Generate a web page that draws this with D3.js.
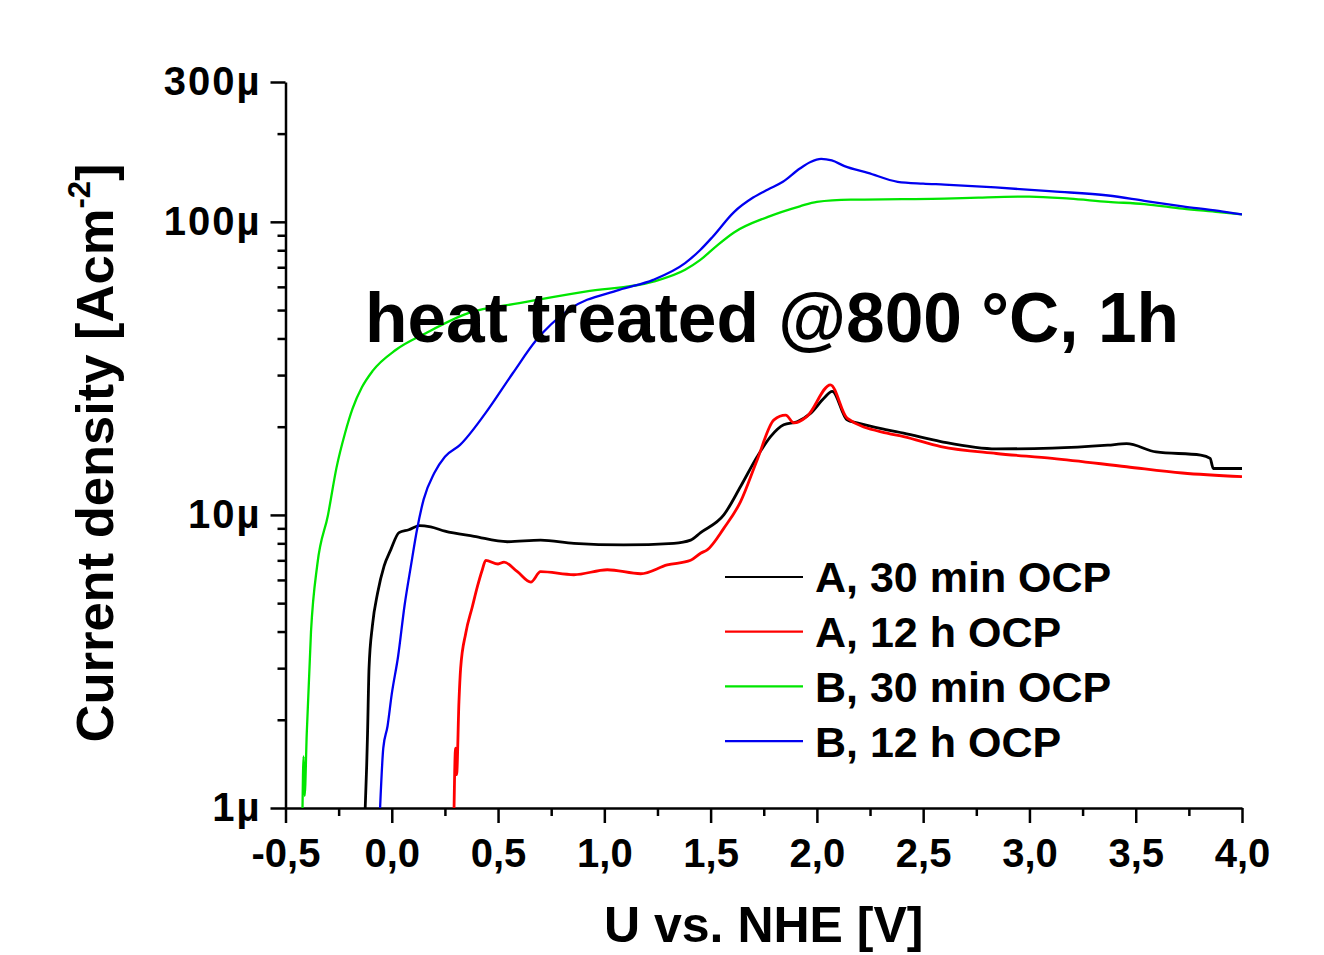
<!DOCTYPE html>
<html>
<head>
<meta charset="utf-8">
<script src="https://cdn.jsdelivr.net/npm/d3@7"></script>
<style>
  body { margin: 0; background: #fff; }
  svg { font-family: "Liberation Sans", Arial, sans-serif; font-weight: bold; }
  .axis path, .axis line { stroke: #000; stroke-width: 2.5; }
  .axis text { font-size: 40px; font-weight: bold; fill: #000; }
</style>
</head>
<body>
<svg width="1324" height="955"></svg>
<script>
// current density in µA/cm², potential in V vs NHE
const seriesNames = ['A, 30 min OCP', 'A, 12 h OCP', 'B, 30 min OCP', 'B, 12 h OCP'];
const seriesColors = ['#000000', '#ff0000', '#00e600', '#0000f0'];

const a30 = [
  [-0.125, 1.0], [-0.118, 1.4], [-0.114, 1.8], [-0.107, 3.0], [-0.091, 4.2], [-0.067, 5.4],
  [-0.036, 6.7], [-0.005, 7.6], [0.034, 8.7], [0.08, 8.9], [0.13, 9.2], [0.183, 9.1],
  [0.25, 8.8], [0.387, 8.45], [0.544, 8.1], [0.70, 8.2], [0.857, 8.0], [1.09, 7.9],
  [1.327, 8.0], [1.406, 8.2], [1.453, 8.7], [1.562, 10.0], [1.641, 12.5], [1.719, 15.8],
  [1.782, 18.5], [1.844, 20.3], [1.907, 20.8], [1.97, 22.2], [2.033, 25.0], [2.072, 26.4],
  [2.142, 21.1], [2.189, 20.6], [2.33, 19.5], [2.408, 19.0], [2.583, 17.8], [2.844, 16.8],
  [3.107, 16.9], [3.369, 17.3], [3.457, 17.5], [3.596, 16.4], [3.806, 16.0], [3.85, 15.6],
  [3.865, 14.4], [4.0, 14.4]
];

const a12 = [
  [0.293, 1.0], [0.30, 1.6], [0.305, 1.3], [0.316, 2.3], [0.324, 3.0], [0.348, 3.95],
  [0.379, 4.86], [0.403, 5.7], [0.426, 6.5], [0.442, 7.0], [0.50, 6.8], [0.528, 6.9],
  [0.591, 6.4], [0.654, 5.9], [0.70, 6.4], [0.857, 6.25], [1.014, 6.5], [1.171, 6.3],
  [1.296, 6.75], [1.406, 7.0], [1.453, 7.4], [1.484, 7.6], [1.562, 9.0], [1.641, 11.1],
  [1.719, 15.4], [1.798, 21.1], [1.853, 21.9], [1.892, 20.6], [1.954, 21.7], [2.064, 27.8],
  [2.142, 21.4], [2.33, 19.0], [2.408, 18.5], [2.583, 17.1], [2.844, 16.2], [3.107, 15.6],
  [3.457, 14.6], [3.719, 13.9], [4.0, 13.5]
];

const b30 = [
  [-0.42, 1.0], [-0.415, 1.5], [-0.41, 1.1], [-0.40, 1.8], [-0.38, 4.0], [-0.35, 6.8],
  [-0.30, 10.0], [-0.26, 14.5], [-0.22, 19.0], [-0.185, 23.0], [-0.14, 27.3], [-0.09, 31.0],
  [0.02, 36.6], [0.16, 41.7], [0.36, 48.8], [0.60, 52.8], [0.91, 57.8], [1.23, 62.5],
  [1.38, 68.6], [1.45, 74.0], [1.53, 83.0], [1.61, 92.0], [1.77, 104], [1.92, 113],
  [2.0, 117], [2.16, 119], [2.4, 119.5], [2.6, 120], [2.76, 121], [3.0, 122],
  [3.19, 120], [3.37, 117], [3.54, 115], [3.72, 111], [3.89, 108], [4.0, 106]
];

const b12 = [
  [-0.055, 1.0], [-0.04, 1.6], [-0.02, 1.9], [0.0, 2.45], [0.03, 3.3], [0.06, 4.9],
  [0.09, 6.7], [0.12, 9.0], [0.15, 11.3], [0.2, 13.9], [0.25, 15.8], [0.32, 17.3],
  [0.44, 22.2], [0.57, 30.5], [0.68, 39.5], [0.83, 50.0], [1.07, 58.6], [1.23, 63.4],
  [1.38, 72.3], [1.45, 80.0], [1.51, 89.0], [1.61, 108], [1.70, 121], [1.77, 129],
  [1.84, 137], [1.92, 152], [1.97, 160], [2.02, 164], [2.07, 162], [2.13, 155],
  [2.24, 147], [2.38, 137], [2.5, 135], [2.6, 134], [2.84, 131], [3.11, 127],
  [3.37, 123], [3.54, 118], [3.72, 113], [3.89, 109], [4.0, 106]
];

const xTicks = [-0.5, 0, 0.5, 1, 1.5, 2, 2.5, 3, 3.5, 4];
const xMinor = [-0.25, 0.25, 0.75, 1.25, 1.75, 2.25, 2.75, 3.25, 3.75];
const yTicks = [1, 10, 100, 300];
const yMinor = [2, 3, 4, 5, 6, 7, 8, 9, 20, 30, 40, 50, 60, 70, 80, 90, 200];

const svg = d3.select('svg');

const x = d3.scaleLinear().domain([-0.5, 4]).range([285.5, 1242]);
const y = d3.scaleLog().domain([1, 300]).range([808, 82]);

svg.append('defs').append('clipPath').attr('id', 'plot')
  .append('rect')
    .attr('x', x.range()[0]).attr('y', y.range()[1])
    .attr('width', x.range()[1] - x.range()[0])
    .attr('height', y.range()[0] - y.range()[1]);

// minor ticks first, majors on top
svg.append('g')
    .attr('class', 'axis')
    .attr('transform', `translate(0,${y.range()[0]})`)
    .call(d3.axisBottom(x).tickValues(xMinor).tickSize(8).tickFormat(''))
    .call(g => g.select('.domain').remove());

svg.append('g')
    .attr('class', 'axis')
    .attr('transform', `translate(${x.range()[0]},0)`)
    .call(d3.axisLeft(y).tickValues(yMinor).tickSize(8).tickFormat(''))
    .call(g => g.select('.domain').remove());

svg.append('g')
    .attr('class', 'axis')
    .attr('transform', `translate(0,${y.range()[0]})`)
    .call(d3.axisBottom(x).tickValues(xTicks).tickSize(15).tickSizeOuter(0).tickPadding(16)
      .tickFormat(d => d3.format('.1f')(d).replace('.', ',').replace('−', '-')));

svg.append('g')
    .attr('class', 'axis')
    .attr('transform', `translate(${x.range()[0]},0)`)
    .call(d3.axisLeft(y).tickValues(yTicks).tickSize(15).tickSizeOuter(0).tickPadding(9)
      .tickFormat(d => d + 'µ'))
    .call(g => g.selectAll('.tick text').attr('letter-spacing', 2));

const line = d3.line()
    .x(d => x(d[0]))
    .y(d => y(d[1]))
    .curve(d3.curveMonotoneX);

const plot = svg.append('g').attr('clip-path', 'url(#plot)');

[a30, a12, b30, b12].forEach((s, i) => {
  plot.append('path')
      .datum(s)
      .attr('fill', 'none')
      .attr('stroke', seriesColors[i])
      .attr('stroke-width', i < 2 ? 2.8 : 2.3)
      .attr('stroke-linejoin', 'round')
      .attr('d', line);
});

// annotation
svg.append('text')
    .attr('x', 365)
    .attr('y', 342)
    .attr('font-size', 69.5)
    .text('heat treated @800 °C, 1h');

// legend
const legend = svg.append('g').attr('transform', 'translate(725,577)');
seriesNames.forEach((name, i) => {
  const row = legend.append('g').attr('transform', `translate(0,${i * 54.7})`);
  row.append('line')
      .attr('x1', 0).attr('x2', 78)
      .attr('stroke', seriesColors[i])
      .attr('stroke-width', 2.2);
  row.append('text')
      .attr('x', 90)
      .attr('dy', '0.36em')
      .attr('font-size', 43)
      .text(name);
});

// axis titles
svg.append('text')
    .attr('x', (x.range()[0] + x.range()[1]) / 2)
    .attr('y', 942)
    .attr('text-anchor', 'middle')
    .attr('font-size', 50)
    .text('U vs. NHE [V]');

const yTitle = svg.append('text')
    .attr('transform', 'translate(113,453) rotate(-90)')
    .attr('text-anchor', 'middle')
    .attr('font-size', 52.5);
yTitle.append('tspan').text('Current density [Acm');
yTitle.append('tspan').attr('font-size', 31).attr('dy', -23).text('-2');
yTitle.append('tspan').attr('dy', 23).text(']');
</script>
</body>
</html>
